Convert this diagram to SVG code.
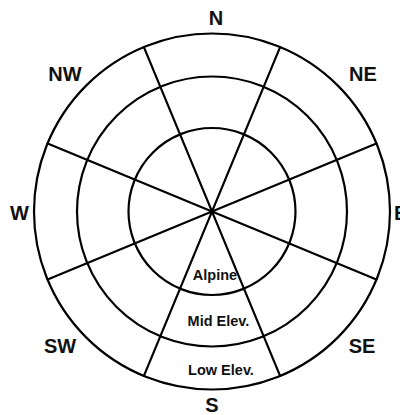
<svg xmlns="http://www.w3.org/2000/svg" width="400" height="415" viewBox="0 0 400 415">
<style>
.ring{fill:none;stroke:#000;stroke-width:2.2}
.spoke{stroke:#000;stroke-width:2.2;stroke-linecap:round}
.dir{font-family:"Liberation Sans",Arial,sans-serif;font-weight:bold;font-size:20px;fill:#111;text-anchor:middle}
.zone{font-family:"Liberation Sans",Arial,sans-serif;font-weight:bold;font-size:14.5px;fill:#111;text-anchor:middle}
</style>
<rect width="400" height="415" fill="#fff"/>
<g id="rings">
<circle class="ring" cx="212" cy="211.5" r="178"/>
<circle class="ring" cx="212" cy="211.5" r="135"/>
<circle class="ring" cx="212" cy="211.5" r="83.5"/>
</g>
<g id="connectors">
<line class="spoke" x1="280.1" y1="47.1" x2="143.9" y2="375.9"/>
<line class="spoke" x1="376.4" y1="143.4" x2="47.6" y2="279.6"/>
<line class="spoke" x1="376.4" y1="279.6" x2="47.6" y2="143.4"/>
<line class="spoke" x1="280.1" y1="375.9" x2="143.9" y2="47.1"/>
</g>
<g id="directions">
<text class="dir" x="216" y="25">N</text>
<text class="dir" x="65" y="81">NW</text>
<text class="dir" x="363" y="81">NE</text>
<text class="dir" x="19.5" y="220">W</text>
<text class="dir" x="394" y="220" style="text-anchor:start">E</text>
<text class="dir" x="60" y="353">SW</text>
<text class="dir" x="362" y="353">SE</text>
<text class="dir" x="212" y="412">S</text>
</g>
<g id="zones">
<text class="zone" x="215" y="280">Alpine</text>
<text class="zone" x="218.5" y="326">Mid Elev.</text>
<text class="zone" x="221" y="375">Low Elev.</text>
</g>
</svg>
